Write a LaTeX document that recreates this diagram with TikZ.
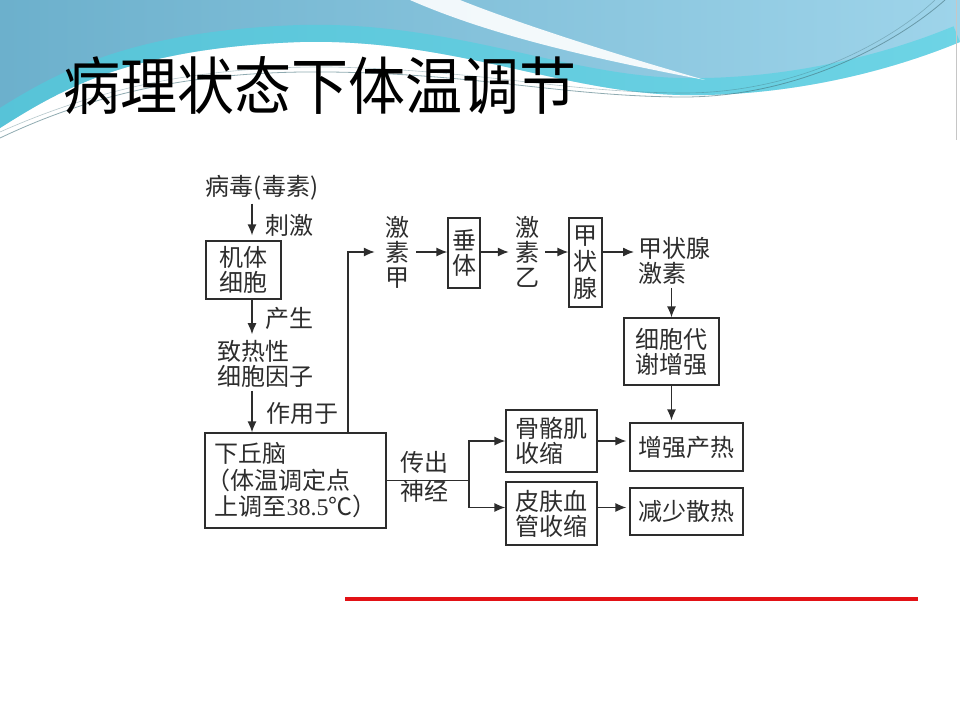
\documentclass[tikz,border=0pt]{standalone}
\usepackage{fontspec}
\setmainfont{Liberation Serif}
\newfontfamily\cjk{Noto Sans CJK SC}
\usepackage{tikz}
\usetikzlibrary{arrows.meta}

\definecolor{ink}{RGB}{45,45,45}
\definecolor{skyleft}{RGB}{108,176,204}
\definecolor{skyright}{RGB}{158,212,234}
\definecolor{glow}{RGB}{70,212,226}
\definecolor{swline}{RGB}{70,115,125}
\definecolor{redline}{RGB}{226,18,22}

\begin{document}
\begin{tikzpicture}[x=1pt, y=-1pt,
    txt/.style={font=\cjk\fontsize{24}{25}\selectfont, text=ink, inner sep=3pt},
    box/.style={txt, draw=ink, line width=1.3pt, align=left},
    arr/.style={-{Latex[length=11pt,width=9pt]}, draw=ink, line width=1.3pt},
    link/.style={draw=ink, line width=1.3pt}]
  \useasboundingbox (0,0) rectangle (960,720);
  \fill[white] (0,0) rectangle (960,720);

  % header band
  \shade[left color=skyleft, right color=skyright] (0,0) -- (960,0) -- (960,42)
    .. controls (880,75) and (780,97) .. (680,95)
    .. controls (560,92) and (450,38) .. (300,42)
    .. controls (130,48) and (60,90) .. (0,128) -- cycle;
  \begin{scope}
    \clip (0,0) -- (960,0) -- (960,42)
      .. controls (880,75) and (780,97) .. (680,95)
      .. controls (560,92) and (450,38) .. (300,42)
      .. controls (130,48) and (60,90) .. (0,128) -- cycle;
    \draw[glow, line width=34pt, opacity=.55] (960,42)
      .. controls (880,75) and (780,97) .. (680,95)
      .. controls (560,92) and (450,38) .. (300,42)
      .. controls (130,48) and (60,90) .. (0,128);
  \end{scope}
  \fill[white, opacity=.9] (410,0) .. controls (490,35) and (590,58) .. (705,80)
    .. controls (600,50) and (510,20) .. (460,0) -- cycle;
  \draw[swline, line width=.8pt, opacity=.6] (0,138) .. controls (80,100) and (180,70) .. (330,72)
    .. controls (480,74) and (560,96) .. (680,97) .. controls (800,98) and (900,40) .. (945,0);
  \draw[swline, line width=.6pt, opacity=.4] (0,132) .. controls (90,92) and (190,66) .. (330,67)
    .. controls (480,70) and (560,92) .. (680,93) .. controls (800,94) and (895,38) .. (935,0);
  \draw[gray!45, line width=1pt] (956,0) -- (956,140);

  \node[font=\cjk\fontsize{57}{57}\selectfont, transform shape, yscale=1.1] (title) at (320,86) {病理状态下体温调节};

  % flow chart
  \coordinate (axis) at (252,0);
  \coordinate (vline) at (348,0);
  \coordinate (fork) at (469,0);

  \node[txt] (bingdu) at (262,188) {病毒(毒素)};
  \node[txt, anchor=west] (cijilbl) at (262,225) {刺激};
  \node[box, minimum width=75, minimum height=58] (jiti) at (243.5,270) {机体\\细胞};
  \node[txt, anchor=west] (chanslbl) at (262,318) {产生};
  \node[txt, align=left, anchor=west] (yinzi) at (214,364) {致热性\\细胞因子};
  \node[txt, anchor=west] (zuoylbl) at (263,413) {作用于};
  \node[box, minimum width=181, minimum height=95, font=\cjk\fontsize{24}{26.5}\selectfont] (xqn) at (295.5,480.5)
    {下丘脑\\\hspace{-8pt}（体温调定点\\上调至{\rmfamily 38.5}℃）};

  \node[txt, align=center, inner xsep=7pt] (jsjia) at (397,252) {激\\素\\甲};
  \node[box, align=center, minimum width=32, minimum height=70, inner sep=2pt] (chuiti) at (464,253) {垂\\体};
  \node[txt, align=center, inner xsep=6pt] (jsyi) at (527,252) {激\\素\\乙};
  \node[box, align=center, minimum width=33, minimum height=89, inner sep=2pt,
    font=\cjk\fontsize{24}{26.5}\selectfont] (jzx) at (585.5,262.5) {甲\\状\\腺};
  \node[txt, align=left, anchor=west, inner xsep=4pt] (jzxjs) at (634,261) {甲状腺\\激素};
  \node[box, minimum width=95, minimum height=67] (daixie) at (671.5,351.5) {细胞代\\谢增强};

  \node[txt, align=left, anchor=west, font=\cjk\fontsize{24}{29}\selectfont] (chuchu) at (397,477) {传出\\神经};
  \node[box, minimum width=91, minimum height=62] (gugeji) at (551.5,441) {骨骼肌\\收缩};
  \node[box, minimum width=91, minimum height=63] (pifu) at (551.5,513.5) {皮肤血\\管收缩};
  \node[box, minimum width=113, minimum height=48] (chanre) at (686.5,447) {增强产热};
  \node[box, minimum width=113, minimum height=47] (sanre) at (686.5,511.5) {减少散热};

  \draw[arr, shorten >=5pt] (bingdu.south -| axis) -- (jiti.north -| axis);
  \draw[arr, shorten >=3pt] (jiti.south -| axis) -- (yinzi.north -| axis);
  \draw[arr] (yinzi.south -| axis) -- (xqn.north -| axis);
  \draw[arr, shorten >=3pt] (xqn.north -| vline) |- (jsjia.west);
  \draw[arr] (jsjia.east) -- (jsjia.east -| chuiti.west);
  \draw[arr] (jsjia.east -| chuiti.east) -- (jsyi.west);
  \draw[arr] (jsyi.east) -- (jsyi.east -| jzx.west);
  \draw[arr] (jsyi.east -| jzx.east) -- (jsyi.east -| jzxjs.west);
  \draw[arr] (jzxjs.south -| daixie.north) -- (daixie.north);
  \draw[arr, shorten >=2pt] (daixie.south) -- (daixie.south |- chanre.north);

  \draw[link] (xqn.east) -- (xqn.east -| fork);
  \draw[arr] (xqn.east -| fork) |- (gugeji.west);
  \draw[arr] (xqn.east -| fork) |- ([yshift=6pt]pifu.west);
  \draw[arr, shorten >=3pt] (gugeji.east) -- (gugeji.east -| chanre.west);
  \draw[arr, shorten >=3pt] ([yshift=6pt]pifu.east) -- ([yshift=6pt]pifu.east -| sanre.west);

  \draw[redline, line width=4.5pt] (345,599) -- (918,599);
\end{tikzpicture}
\end{document}
